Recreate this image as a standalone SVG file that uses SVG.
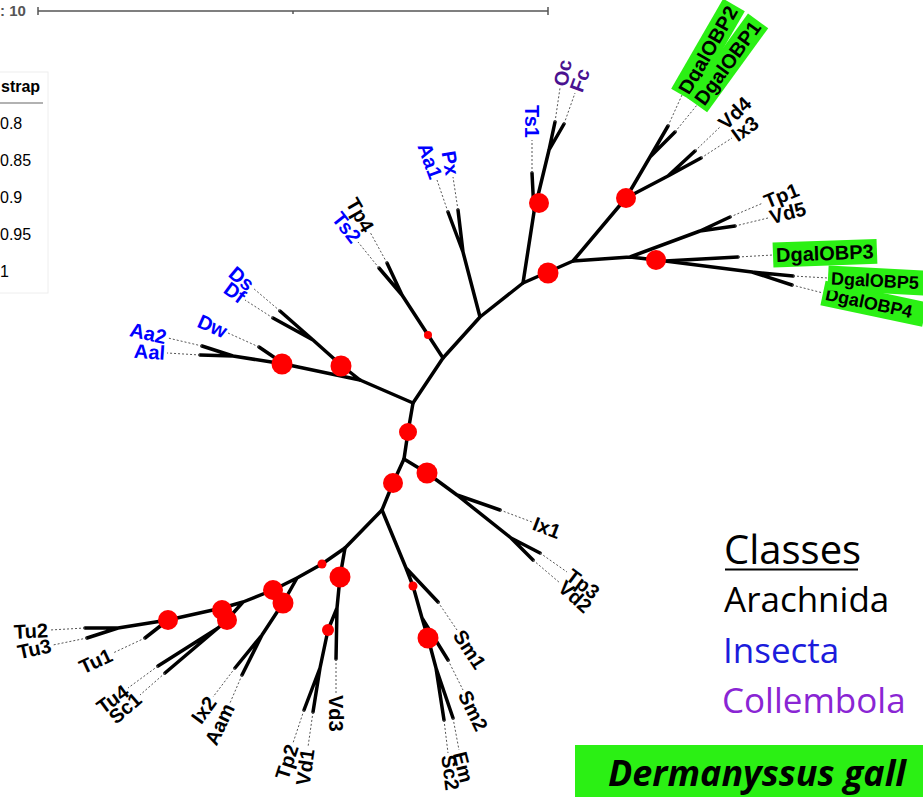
<svg xmlns="http://www.w3.org/2000/svg" width="923" height="797" viewBox="0 0 923 797">
<style>
.br{fill:none;stroke:#000;stroke-width:3.5;stroke-linecap:round;stroke-linejoin:round}
.ds{fill:none;stroke:#555;stroke-width:1;stroke-dasharray:2,2}
.bs{fill:#ff0000}
.lb{font-family:"Liberation Sans",Arial,sans-serif;font-weight:bold;font-size:20px}
.L{text-anchor:end}
.ins{fill:#0000ff}
.col{fill:#4a1290}
.gb{fill:#2bf014}
.leg{font-family:"Open Sans","Noto Sans",sans-serif}
</style>
<rect width="923" height="797" fill="#fff"/>
<g id="scale">
<text x="0" y="16" font-family="Liberation Sans,Arial,sans-serif" font-weight="bold" font-size="15" fill="#555">: 10</text>
<path d="M38,11H548M38,7V15M548,7V15M293,11V14" stroke="#555" stroke-width="1.5" fill="none"/>
</g>
<g id="bootstrap-legend">
<rect x="-10" y="72" width="58" height="221" fill="#fff" stroke="#eee"/>
<text x="1" y="92" font-family="Liberation Sans,Arial,sans-serif" font-weight="bold" font-size="16">strap</text>
<path d="M-10,103H43" stroke="#999" stroke-width="1.5"/>
<g font-family="Liberation Sans,Arial,sans-serif" font-size="16">
<text x="0" y="129">0.8</text>
<text x="0" y="166">0.85</text>
<text x="0" y="203">0.9</text>
<text x="0" y="240">0.95</text>
<text x="0" y="277">1</text>
</g>
</g>
<g id="connectors">
<path class="br" d="M413,403L408,432L404,459L393,483L382,510"/>
<path class="br" d="M413,403L360,380M413,403L443,358M443,358L402,295L387,263M402,295L379,268"/>
<path class="br" d="M443,358L480,317L463,252L448,212M463,252L458,210M480,317L523,283L534,212L532,173M534,212L549,150L555,122M549,150L564,124"/>
<path class="br" d="M523,283L573,261L626,198L650,157L668,126M650,157L675,132M626,198L668,176L695,151M668,176L701,158"/>
<path class="br" d="M573,261L630,257L700,231L730,217M700,231L735,226M630,257L665,261L738,257M665,261L752,272L793,276M752,272L792,285"/>
<path class="br" d="M360,380L341,365L313,340L280,311M313,340L273,318M360,380L284,364L259,347M284,364L233,356L202,346M233,356L200,355"/>
<path class="br" d="M404,459L427,473L457,495L500,510M457,495L511,538L540,553M511,538L533,560"/>
<path class="br" d="M382,510L345,548L322,564L297,578L283,603L262,635L235,668M262,635L242,675M297,578L273,590L243,602L227,620L218,628L158,666M218,628L165,673M243,602L222,608L168,620L145,638M168,620L118,628L85,628M118,628L87,638"/>
<path class="br" d="M345,548L340,577L337,608L336,659M337,608L328,630L320,668L304,710M320,668L313,712"/>
<path class="br" d="M382,510L406,568L438,602M406,568L413,586L422,618L448,660M422,618L428,638L436,668L444,720M436,668L453,718"/>
<path class="ds" d="M202,346L168,338M200,355L167,353M259,347L228,333M280,311L253,288M273,318L245,300M387,263L370,232M379,268L358,242M448,212L437,180M458,210L453,177M532,173L532,140M555,122L560,88M564,124L575,93M668,126L682,95M675,132L697,105M695,151L720,127M701,158L732,138M730,217L763,203M735,226L768,218M738,257L773,255M793,276L828,278M792,285L823,293M500,510L532,522M540,553L567,572M533,560L560,583M438,602L457,630M448,660L463,690M453,718L459,750M444,720L448,753M336,659L336,693M313,712L308,747M304,710L293,743M242,675L230,703M235,668L213,697M165,673L140,695M158,666L128,688M145,638L113,653M87,638L53,645M85,628L50,630"/>
</g>
<g id="bootstrap">
<circle class="bs" cx="282" cy="364" r="10.5"/>
<circle class="bs" cx="341" cy="366" r="10.5"/>
<circle class="bs" cx="428" cy="335" r="4"/>
<circle class="bs" cx="408" cy="432" r="9"/>
<circle class="bs" cx="427" cy="473" r="10.5"/>
<circle class="bs" cx="393" cy="483" r="10"/>
<circle class="bs" cx="539" cy="203" r="10"/>
<circle class="bs" cx="548" cy="273" r="10.5"/>
<circle class="bs" cx="626" cy="198" r="10"/>
<circle class="bs" cx="656" cy="260" r="10"/>
<circle class="bs" cx="168" cy="620" r="10"/>
<circle class="bs" cx="222" cy="610" r="10"/>
<circle class="bs" cx="227" cy="620" r="10"/>
<circle class="bs" cx="273" cy="590" r="10"/>
<circle class="bs" cx="283" cy="603" r="10.5"/>
<circle class="bs" cx="322" cy="564" r="4.5"/>
<circle class="bs" cx="340" cy="577" r="10.5"/>
<circle class="bs" cx="328" cy="630" r="6"/>
<circle class="bs" cx="413" cy="586" r="4.5"/>
<circle class="bs" cx="428" cy="638" r="10.5"/>
</g>
<g id="leaves" class="lb">
<g id="Aa2" transform="translate(168,338) rotate(13)"><text class="L ins" x="-2" dy="0.35em">Aa2</text></g>
<g id="Aal" transform="translate(167,353) rotate(4)"><text class="L ins" x="-2" dy="0.35em">Aal</text></g>
<g id="Dw" transform="translate(228,333) rotate(24)"><text class="L ins" x="-2" dy="0.35em">Dw</text></g>
<g id="Ds" transform="translate(253,288) rotate(40)"><text class="L ins" x="-2" dy="0.35em">Ds</text></g>
<g id="Df" transform="translate(245,300) rotate(36)"><text class="L ins" x="-2" dy="0.35em">Df</text></g>
<g id="Tp4" transform="translate(370,232) rotate(60)"><text class="L" x="-2" dy="0.35em">Tp4</text></g>
<g id="Ts2" transform="translate(358,242) rotate(52)"><text class="L ins" x="-2" dy="0.35em">Ts2</text></g>
<g id="Aa1" transform="translate(437,180) rotate(70)"><text class="L ins" x="-2" dy="0.35em">Aa1</text></g>
<g id="Px" transform="translate(453,177) rotate(80)"><text class="L ins" x="-2" dy="0.35em">Px</text></g>
<g id="Ts1" transform="translate(532,140) rotate(90)"><text class="L ins" x="-2" dy="0.35em">Ts1</text></g>
<g id="Oc" transform="translate(560,88) rotate(-80)"><text class="col" x="2" dy="0.35em">Oc</text></g>
<g id="Fc" transform="translate(575,93) rotate(-70)"><text class="col" x="2" dy="0.35em">Fc</text></g>
<g id="DgalOBP2" transform="translate(682,95) rotate(-60)"><rect class="gb" x="0" y="-12.5" width="104" height="25"/><text x="3" dy="0.35em">DgalOBP2</text></g>
<g id="DgalOBP1" transform="translate(697,105) rotate(-54)"><rect class="gb" x="0" y="-12.5" width="104" height="25"/><text x="3" dy="0.35em">DgalOBP1</text></g>
<g id="Vd4" transform="translate(720,127) rotate(-44)"><text x="2" dy="0.35em">Vd4</text></g>
<g id="Ix3" transform="translate(732,138) rotate(-36)"><text x="2" dy="0.35em">Ix3</text></g>
<g id="Tp1" transform="translate(763,203) rotate(-22)"><text x="2" dy="0.35em">Tp1</text></g>
<g id="Vd5" transform="translate(768,218) rotate(-15)"><text x="2" dy="0.35em">Vd5</text></g>
<g id="DgalOBP3" transform="translate(773,255) rotate(-2)"><rect class="gb" x="0" y="-12.5" width="104" height="25"/><text x="3" dy="0.35em">DgalOBP3</text></g>
<g id="DgalOBP4" transform="translate(823,293) rotate(12)"><rect class="gb" x="0" y="-12.5" width="104" height="25"/><text x="3" dy="0.35em" font-size="18">DgalOBP4</text></g>
<g id="DgalOBP5" transform="translate(828,278) rotate(3)"><rect class="gb" x="0" y="-12.5" width="104" height="25"/><text x="3" dy="0.35em" font-size="18">DgalOBP5</text></g>
<g id="Ix1" transform="translate(532,522) rotate(21)"><text x="2" dy="0.35em">Ix1</text></g>
<g id="Tp3" transform="translate(567,572) rotate(37)"><text x="2" dy="0.35em">Tp3</text></g>
<g id="Vd2" transform="translate(560,583) rotate(42)"><text x="2" dy="0.35em">Vd2</text></g>
<g id="Sm1" transform="translate(457,630) rotate(57)"><text x="2" dy="0.35em">Sm1</text></g>
<g id="Sm2" transform="translate(463,690) rotate(64)"><text x="2" dy="0.35em">Sm2</text></g>
<g id="Em" transform="translate(459,750) rotate(76)"><text x="2" dy="0.35em">Em</text></g>
<g id="Sc2" transform="translate(448,753) rotate(83)"><text x="2" dy="0.35em">Sc2</text></g>
<g id="Vd3" transform="translate(336,693) rotate(90)"><text x="2" dy="0.35em">Vd3</text></g>
<g id="Vd1" transform="translate(308,747) rotate(-82)"><text class="L" x="-2" dy="0.35em">Vd1</text></g>
<g id="Tp2" transform="translate(293,743) rotate(-72)"><text class="L" x="-2" dy="0.35em">Tp2</text></g>
<g id="Aam" transform="translate(230,703) rotate(-64)"><text class="L" x="-2" dy="0.35em">Aam</text></g>
<g id="Ix2" transform="translate(213,697) rotate(-54)"><text class="L" x="-2" dy="0.35em">Ix2</text></g>
<g id="Sc1" transform="translate(140,695) rotate(-41)"><text class="L" x="-2" dy="0.35em">Sc1</text></g>
<g id="Tu4" transform="translate(128,688) rotate(-36)"><text class="L" x="-2" dy="0.35em">Tu4</text></g>
<g id="Tu1" transform="translate(113,653) rotate(-25)"><text class="L" x="-2" dy="0.35em">Tu1</text></g>
<g id="Tu3" transform="translate(53,645) rotate(-12)"><text class="L" x="-2" dy="0.35em">Tu3</text></g>
<g id="Tu2" transform="translate(50,630) rotate(-3)"><text class="L" x="-2" dy="0.35em">Tu2</text></g>
</g>
<g id="classes-legend" class="leg">
<text x="724" y="564" font-size="40">Classes</text>
<path d="M725,569.5H858" stroke="#000" stroke-width="2"/>
<text x="724" y="612" font-size="35" fill="#000">Arachnida</text>
<text x="723" y="663" font-size="35" fill="#1c1cdc">Insecta</text>
<text x="722" y="713" font-size="35" fill="#8a25d4">Collembola</text>
</g>
<g id="species-banner">
<rect x="575" y="745" width="348" height="52" fill="#2bf014"/>
<text x="608" y="786" font-family="Open Sans,Noto Sans,sans-serif" font-weight="bold" font-style="italic" font-size="36" textLength="298" lengthAdjust="spacingAndGlyphs">Dermanyssus gall</text>
</g>
</svg>
